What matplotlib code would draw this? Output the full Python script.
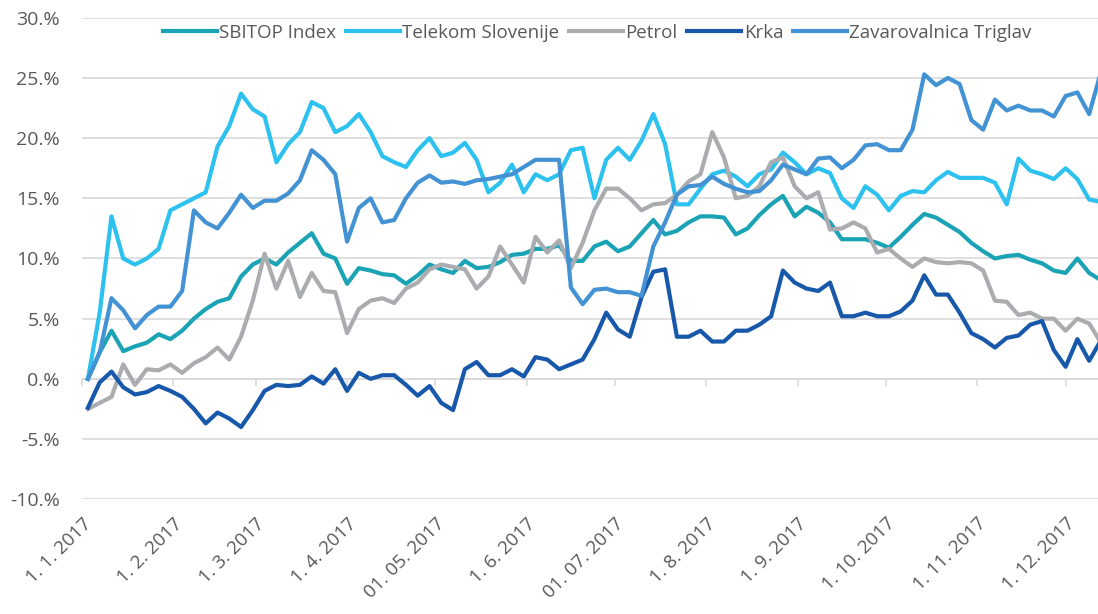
import numpy as np
import pandas as pd
import matplotlib
matplotlib.use("Agg")
import matplotlib.pyplot as plt
import matplotlib.dates as mdates

plt.rcParams["font.family"] = ["Open Sans", "DejaVu Sans"]

# datumi (vsak 4. dan) in donosi v %
dates = pd.date_range("2017-01-03", periods=87, freq="4D")

sbitop = [0, 2.2, 4, 2.3, 2.7, 3, 3.7, 3.3, 4, 5,
          5.8, 6.4, 6.7, 8.5, 9.5, 10, 9.5, 10.5, 11.3, 12.1,
          10.4, 10, 7.9, 9.2, 9, 8.7, 8.6, 7.9, 8.6, 9.5,
          9.1, 8.8, 9.8, 9.2, 9.3, 9.7, 10.3, 10.4, 10.8, 10.8,
          11.1, 9.8, 9.8, 11, 11.4, 10.6, 11, 12.1, 13.2, 12,
          12.3, 13, 13.5, 13.5, 13.4, 12, 12.5, 13.6, 14.5, 15.2,
          13.5, 14.3, 13.8, 13, 11.6, 11.6, 11.6, 11.3, 10.9, 11.8,
          12.8, 13.7, 13.4, 12.8, 12.2, 11.3, 10.6, 10, 10.2, 10.3,
          9.9, 9.6, 9, 8.8, 10, 8.8, 8.2]

telekom = [0, 5.5, 13.5, 10, 9.5, 10, 10.8, 14, 14.5, 15,
           15.5, 19.3, 21, 23.7, 22.4, 21.8, 18, 19.5, 20.5, 23,
           22.5, 20.5, 21, 22, 20.5, 18.5, 18, 17.6, 19, 20,
           18.5, 18.8, 19.6, 18.2, 15.5, 16.3, 17.8, 15.5, 17, 16.5,
           17, 19, 19.2, 15, 18.2, 19.2, 18.2, 19.8, 22, 19.5,
           14.5, 14.5, 15.8, 17, 17.3, 16.8, 16, 17, 17.4, 18.8,
           18, 17, 17.5, 17.1, 15, 14.2, 16, 15.3, 14, 15.2,
           15.6, 15.5, 16.5, 17.2, 16.7, 16.7, 16.7, 16.3, 14.5, 18.3,
           17.3, 17, 16.6, 17.5, 16.6, 14.9, 14.7]

petrol = [-2.5, -2, -1.5, 1.2, -0.5, 0.8, 0.7, 1.2, 0.5, 1.3,
          1.8, 2.6, 1.6, 3.5, 6.5, 10.4, 7.5, 9.8, 6.8, 8.8,
          7.3, 7.2, 3.8, 5.8, 6.5, 6.7, 6.3, 7.5, 8, 9.1,
          9.5, 9.3, 9.1, 7.5, 8.5, 11, 9.5, 8, 11.8, 10.5,
          11.5, 9.2, 11.3, 14, 15.8, 15.8, 15, 14, 14.5, 14.6,
          15.3, 16.4, 17, 20.5, 18.4, 15, 15.2, 16, 18, 18.4,
          16, 15, 15.5, 12.4, 12.5, 13, 12.5, 10.5, 10.8, 10,
          9.3, 10, 9.7, 9.6, 9.7, 9.6, 9, 6.5, 6.4, 5.3,
          5.5, 5, 5, 4, 5, 4.6, 3]

krka = [-2.4, -0.3, 0.6, -0.7, -1.3, -1.1, -0.6, -1, -1.5, -2.5,
        -3.7, -2.8, -3.3, -4, -2.6, -1, -0.5, -0.6, -0.5, 0.2,
        -0.4, 0.8, -1, 0.5, 0, 0.3, 0.3, -0.5, -1.4, -0.6,
        -2, -2.6, 0.8, 1.4, 0.3, 0.3, 0.8, 0.2, 1.8, 1.6,
        0.8, 1.2, 1.6, 3.3, 5.5, 4.1, 3.5, 6.8, 8.9, 9.1,
        3.5, 3.5, 4, 3.1, 3.1, 4, 4, 4.5, 5.2, 9,
        8, 7.5, 7.3, 8, 5.2, 5.2, 5.5, 5.2, 5.2, 5.6,
        6.5, 8.6, 7, 7, 5.5, 3.8, 3.3, 2.6, 3.4, 3.6,
        4.5, 4.8, 2.4, 1, 3.3, 1.5, 3.2]

triglav = [0, 2.2, 6.7, 5.7, 4.2, 5.3, 6, 6, 7.3, 14,
           13, 12.5, 13.8, 15.3, 14.2, 14.8, 14.8, 15.4, 16.5, 19,
           18.2, 17, 11.4, 14.2, 15, 13, 13.2, 15, 16.3, 16.9,
           16.3, 16.4, 16.2, 16.5, 16.6, 16.8, 17, 17.6, 18.2, 18.2,
           18.2, 7.6, 6.2, 7.4, 7.5, 7.2, 7.2, 6.9, 11, 13,
           15.3, 16, 16.1, 16.8, 16.2, 15.8, 15.5, 15.6, 16.5, 17.8,
           17.4, 17, 18.3, 18.4, 17.5, 18.2, 19.4, 19.5, 19, 19,
           20.7, 25.3, 24.4, 25, 24.5, 21.5, 20.7, 23.2, 22.3, 22.7,
           22.3, 22.3, 21.8, 23.5, 23.8, 22, 25.5]

series = [
    ("SBITOP Index", sbitop, "#1AA3B4"),
    ("Telekom Slovenije", telekom, "#2CC1EE"),
    ("Petrol", petrol, "#AAACAF"),
    ("Krka", krka, "#1858AA"),
    ("Zavarovalnica Triglav", triglav, "#4392D3"),
]

month_ticks = pd.date_range("2017-01-01", periods=12, freq="MS")
month_labels = ["1. 1. 2017", "1. 2. 2017", "1. 3. 2017", "1. 4. 2017",
                "01. 05. 2017", "1. 6. 2017", "01. 07. 2017", "1. 8. 2017",
                "1. 9. 2017", "1. 10. 2017", "1. 11. 2017", "1. 12. 2017"]
y_ticks = [-10, -5, 0, 5, 10, 15, 20, 25, 30]
y_labels = ["-10.%", "-5.%", "0.%", "5.%", "10.%", "15.%", "20.%", "25.%", "30.%"]

fig = plt.figure(figsize=(10.98, 6.14), dpi=100)
ax = fig.add_axes([0.0747, 0.187, 0.9253, 0.784])

for name, vals, col in series:
    ax.plot(dates, vals, color=col, lw=3.0, label=name, solid_joinstyle="round")

ax.set_ylim(-10, 30)
ax.set_xlim(pd.Timestamp("2017-01-01"), pd.Timestamp("2017-01-01") + pd.Timedelta(days=345))
ax.set_yticks(y_ticks)
ax.set_yticklabels(y_labels, fontsize=14, color="#595959")
ax.tick_params(axis="y", length=0, pad=16)
ax.grid(axis="y", color="#D9D9D9", lw=1.2)
ax.set_axisbelow(True)
for s in ax.spines.values():
    s.set_visible(False)

ax.set_xticks(month_ticks)
ax.set_xticklabels(month_labels, rotation=45, ha="right", rotation_mode="anchor",
                   fontsize=13.5, color="#595959")
ax.tick_params(axis="x", length=0, pad=11)

# osnovna os pri 0 %
sec = ax.secondary_xaxis(0.25)
sec.set_xticks(month_ticks)
sec.set_xticklabels([])
sec.tick_params(axis="x", length=5, width=1.2, color="#D9D9D9", direction="out")
sec.spines["bottom"].set_color("#D9D9D9")
sec.spines["bottom"].set_linewidth(1.2)

leg = ax.legend(loc="center", bbox_to_anchor=(0.507, 0.969), ncol=5, frameon=False,
                fontsize=13.5, handlelength=2.9, handletextpad=0.12, columnspacing=0.5,
                borderaxespad=0)
for t in leg.get_texts():
    t.set_color("#595959")

fig.savefig("out.png", dpi=100)
